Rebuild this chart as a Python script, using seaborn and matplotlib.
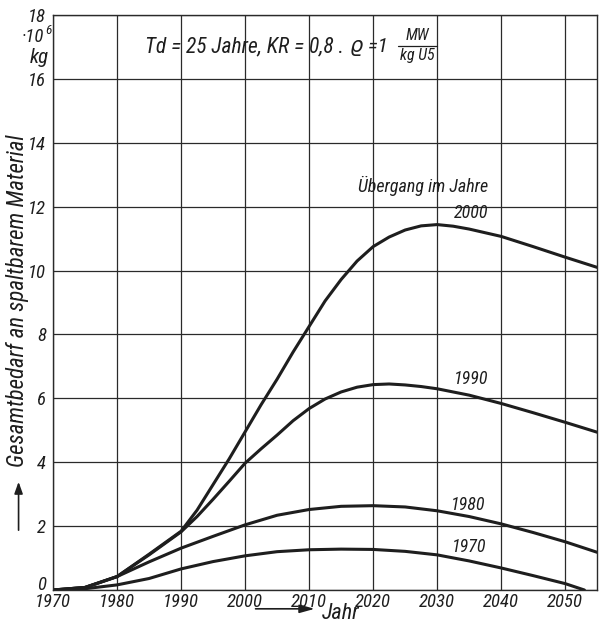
import numpy as np
import pandas as pd
import matplotlib
matplotlib.use("Agg")
import matplotlib.pyplot as plt
from matplotlib import font_manager
from matplotlib.patches import FancyArrowPatch
from matplotlib.lines import Line2D
import seaborn as sns

# ---- data ----
years_2000 = [1970, 1975, 1980, 1985, 1990, 1992.5, 1995, 1997.5, 2000, 2002.5, 2005, 2007.5, 2010, 2012.5,
              2015, 2017.5, 2020, 2022.5, 2025, 2027.5, 2030, 2032.5, 2035, 2040, 2045, 2050, 2055]
vals_2000 = [0.0, 0.08, 0.42, 1.12, 1.84, 2.5, 3.3, 4.1, 4.95, 5.8, 6.6, 7.45, 8.25, 9.05,
             9.72, 10.3, 10.75, 11.05, 11.27, 11.4, 11.44, 11.39, 11.3, 11.07, 10.75, 10.42, 10.1]

years_1990 = [1970, 1975, 1980, 1985, 1990, 1992.5, 1995, 1997.5, 2000, 2002.5, 2005, 2007.5, 2010, 2012.5,
              2015, 2017.5, 2020, 2022.5, 2025, 2027.5, 2030, 2035, 2040, 2045, 2050, 2055]
vals_1990 = [0.0, 0.08, 0.42, 1.1, 1.82, 2.3, 2.84, 3.4, 3.97, 4.42, 4.85, 5.3, 5.68, 5.98,
             6.2, 6.35, 6.43, 6.45, 6.42, 6.37, 6.3, 6.1, 5.84, 5.55, 5.25, 4.94]

years_1980 = [1970, 1975, 1980, 1985, 1990, 1995, 2000, 2005, 2010, 2015, 2020, 2025, 2030, 2035, 2040, 2045, 2050, 2055]
vals_1980 = [0.0, 0.08, 0.42, 0.88, 1.31, 1.68, 2.04, 2.34, 2.52, 2.62, 2.64, 2.6, 2.48, 2.3, 2.07, 1.8, 1.51, 1.18]

years_1970 = [1970, 1975, 1980, 1985, 1990, 1995, 2000, 2005, 2010, 2015, 2020, 2025, 2030, 2035, 2040, 2045, 2050, 2053]
vals_1970 = [0.0, 0.04, 0.16, 0.36, 0.66, 0.89, 1.07, 1.2, 1.26, 1.28, 1.27, 1.21, 1.1, 0.91, 0.69, 0.45, 0.2, 0.0]

series_names = ["2000", "1990", "1980", "1970"]
x_ticks = [1970, 1980, 1990, 2000, 2010, 2020, 2030, 2040, 2050]
y_ticks = [0, 2, 4, 6, 8, 10, 12, 14, 16, 18]

frames = []
for name, xs, ys in zip(series_names,
                        [years_2000, years_1990, years_1980, years_1970],
                        [vals_2000, vals_1990, vals_1980, vals_1970]):
    frames.append(pd.DataFrame({"Jahr": xs, "Bedarf": ys, "Uebergang": name}))
df = pd.concat(frames, ignore_index=True)

# ---- style ----
sns.set_theme(style="white")
installed = {f.name for f in font_manager.fontManager.ttflist}
base = "DejaVu Sans"
for cand in ["Liberation Sans Narrow", "DejaVu Sans Condensed", "Roboto Condensed",
             "Open Sans Condensed", "Roboto", "Liberation Sans"]:
    if cand in installed:
        base = cand
        break
FONT = [base, "DejaVu Sans"]
plt.rcParams["font.family"] = FONT

INK = "#1e1e1e"
fig = plt.figure(figsize=(5.99, 6.27), dpi=100)
ax = fig.add_axes([0.0885, 0.059, 0.9085, 0.917])

sns.lineplot(data=df, x="Jahr", y="Bedarf", hue="Uebergang",
             palette={n: INK for n in series_names},
             linewidth=2.2, legend=False, ax=ax, sort=True)

ax.set_xlim(1970, 2055)
ax.set_ylim(0, 18)
ax.set_xticks(x_ticks)
ax.set_yticks(y_ticks)
ax.grid(True, color="#2a2a2a", linewidth=0.9)
for sp in ax.spines.values():
    sp.set_color("#2a2a2a")
    sp.set_linewidth(1.0)
ax.tick_params(axis="both", length=0, labelsize=13.5, colors=INK)
ax.tick_params(axis="x", pad=2)
ax.tick_params(axis="y", pad=5)
for lab in ax.get_xticklabels() + ax.get_yticklabels():
    lab.set_fontstyle("italic")
ax.get_yticklabels()[0].set_verticalalignment("baseline")
ax.set_xlabel("")
ax.set_ylabel("")

txt = dict(fontstyle="italic", color=INK, family=FONT)

# unit label
fig.text(0.074, 0.941, "·10", ha="right", va="center", fontsize=13.5, **txt)
fig.text(0.075, 0.951, "6", ha="left", va="center", fontsize=9.5, **txt)
fig.text(0.081, 0.908, "kg", ha="right", va="center", fontsize=15, **txt)

# title annotation
ax.text(1984.4, 17.0, "Td = 25 Jahre, KR = 0,8 .", ha="left", va="center", fontsize=15.5, **txt)
ax.text(2022.3, 17.0, "ϱ =1", ha="right", va="center", fontsize=15, **txt)
ax.text(2026.95, 17.12, "MW", ha="center", va="bottom", fontsize=11.5, **txt)
ax.text(2026.95, 16.96, "kg U5", ha="center", va="top", fontsize=11.5, **txt)
ax.add_line(Line2D([2023.9, 2030.0], [17.04, 17.04], color=INK, linewidth=0.9))

# curve labels
ax.text(2038.0, 12.65, "Übergang im Jahre", ha="right", va="center", fontsize=13, **txt)
ax.text(2038.0, 11.8, "2000", ha="right", va="center", fontsize=13, **txt)
ax.text(2038.0, 6.6, "1990", ha="right", va="center", fontsize=13, **txt)
ax.text(2037.5, 2.65, "1980", ha="right", va="center", fontsize=13, **txt)
ax.text(2037.7, 1.35, "1970", ha="right", va="center", fontsize=13, **txt)

# y axis label with arrow
fig.text(0.029, 0.52, "Gesamtbedarf an spaltbarem Material", rotation=90,
         ha="center", va="center", fontsize=16.5, **txt)
fig.add_artist(FancyArrowPatch((0.031, 0.150), (0.031, 0.236),
               transform=fig.transFigure, arrowstyle="-|>,head_length=7,head_width=2.5",
               color=INK, linewidth=1.2))

# x axis label with arrow
fig.add_artist(FancyArrowPatch((0.422, 0.029), (0.530, 0.029),
               transform=fig.transFigure, arrowstyle="-|>,head_length=9,head_width=2.5",
               color=INK, linewidth=1.2))
fig.text(0.538, 0.021, "Jahr", ha="left", va="center", fontsize=16, **txt)

fig.savefig("out.png", dpi=100, facecolor="white")
